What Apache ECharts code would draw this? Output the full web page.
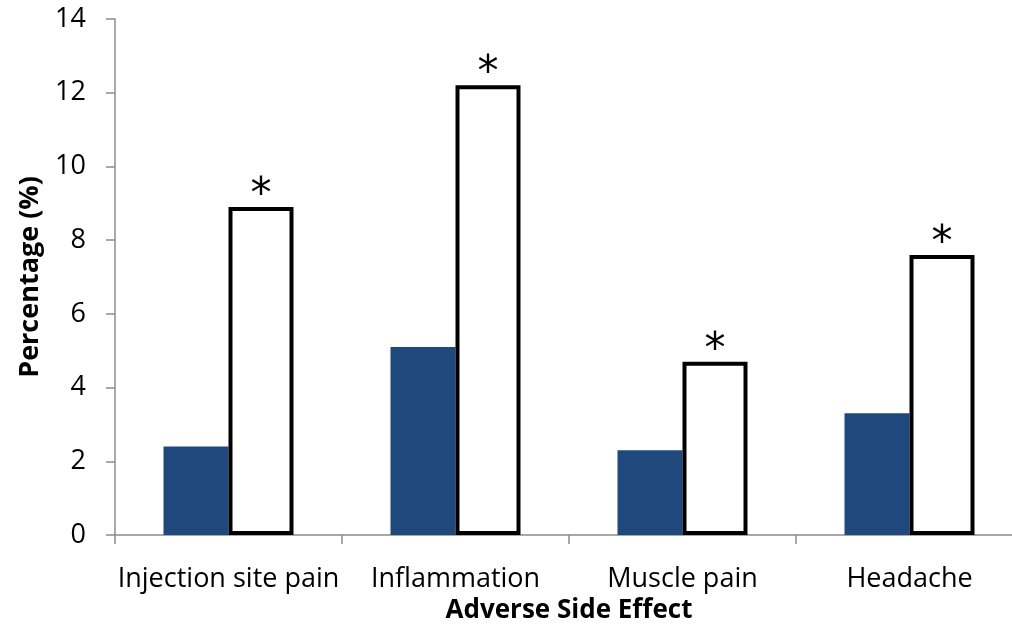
<!DOCTYPE html>
<html><head><meta charset="utf-8">
<script src="https://cdn.jsdelivr.net/npm/echarts@6/dist/echarts.min.js"></script>
<style>html,body{margin:0;padding:0;background:#fff}#c{width:1012px;height:624px}</style>
</head><body><div id="c"></div>
<script>
const categories = ['Injection site pain', 'Inflammation', 'Muscle pain', 'Headache'];
const groupA = [2.4, 5.1, 2.3, 3.3];
const groupB = [8.9, 12.2, 4.7, 7.6];
const significance = ['*', '*', '*', '*'];
const yTicks = [0, 2, 4, 6, 8, 10, 12, 14];

const font = 'Open Sans';
const chart = echarts.init(document.getElementById('c'));
chart.setOption({
  backgroundColor: '#fff',
  animation: false,
  grid: { left: 115, top: 19, bottom: 89, width: 908, containLabel: false, outerBoundsMode: 'none' },
  xAxis: {
    type: 'category', data: categories,
    axisLine: { lineStyle: { color: '#8c8c8c', width: 1.5 } },
    axisTick: { show: true, interval: 0, length: 9, lineStyle: { color: '#8c8c8c', width: 1.5 } },
    axisLabel: { color: '#000', fontSize: 27, fontFamily: font, margin: 31, interval: 0 },
    name: 'Adverse Side Effect', nameLocation: 'middle', nameGap: 57,
    nameTextStyle: { color: '#000', fontSize: 26, fontWeight: 'bold', fontFamily: font }
  },
  yAxis: {
    type: 'value', min: yTicks[0], max: yTicks[yTicks.length - 1], interval: 2,
    splitLine: { show: false },
    axisLine: { show: true, lineStyle: { color: '#8c8c8c', width: 1.5 } },
    axisTick: { show: true, length: 9, lineStyle: { color: '#8c8c8c', width: 1.5 } },
    axisLabel: { color: '#000', fontSize: 27, fontFamily: font, margin: 29 },
    name: 'Percentage (%)', nameLocation: 'middle', nameGap: 71, nameRotate: 90,
    nameTextStyle: { color: '#000', fontSize: 27, fontWeight: 'bold', fontFamily: font }
  },
  series: [
    {
      type: 'bar', data: groupA, barWidth: 65, barGap: '0%',
      itemStyle: { color: '#1F497D' }
    },
    {
      type: 'bar', data: groupB, barWidth: 65,
      itemStyle: { color: '#fff', borderColor: '#000', borderWidth: 4 },
      label: {
        show: true, position: 'top', distance: -10,
        formatter: p => significance[p.dataIndex],
        fontSize: 42, fontFamily: 'DejaVu Sans', color: '#000'
      }
    }
  ]
});
</script></body></html>
